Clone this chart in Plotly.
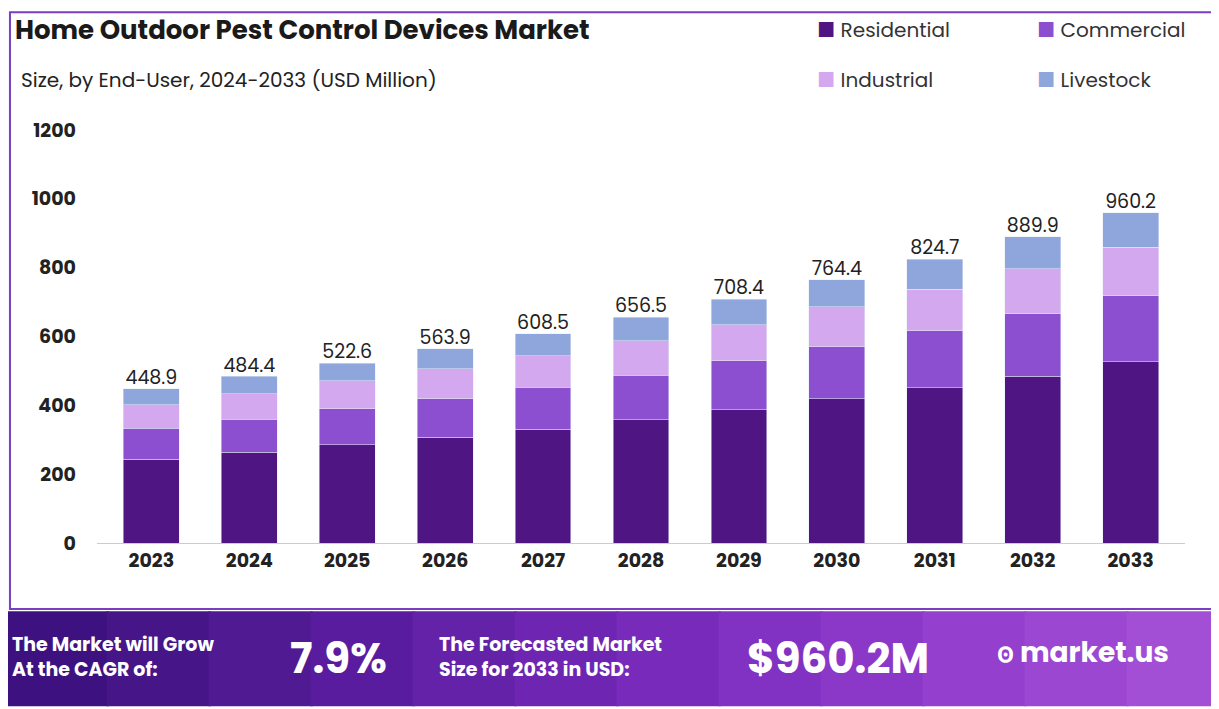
import plotly.graph_objects as go

years = ["2023", "2024", "2025", "2026", "2027", "2028", "2029", "2030", "2031", "2032", "2033"]
totals = [448.9, 484.4, 522.6, 563.9, 608.5, 656.5, 708.4, 764.4, 824.7, 889.9, 960.2]
residential = [244, 264, 285, 308, 331, 358, 387, 419, 451, 485, 526]
commercial = [90, 96, 105, 111, 122, 130, 142, 151, 165, 181, 192]
industrial = [67, 73, 81, 87, 91, 99, 105, 116, 122, 131, 142]
livestock = [round(t - r - c - i, 1) for t, r, c, i in zip(totals, residential, commercial, industrial)]

series = [
    ("Residential", residential, "#4f1683"),
    ("Commercial", commercial, "#8c4fd0"),
    ("Industrial", industrial, "#d4a8ee"),
    ("Livestock", livestock, "#8ea6dc"),
]

fig = go.Figure()
for name, vals, col in series:
    fig.add_trace(go.Bar(x=years, y=vals, name=name, marker_color=col, width=0.57, showlegend=False))

# total labels above bars
fig.add_trace(go.Scatter(x=years, y=totals, mode="text", text=[f"{t:.1f}" for t in totals],
                         textposition="top center", textfont=dict(size=19, color="#222"),
                         showlegend=False, hoverinfo="skip"))

shapes = [dict(type="rect", xref="paper", yref="paper", x0=-0.08, x1=1.03, y0=-0.16, y1=1.285,
               line=dict(color="#7a3fc0", width=2), fillcolor="rgba(0,0,0,0)", layer="below")]
# banner gradient
cols = ["#3d1280", "#461588", "#501a93", "#5a1c9e", "#6422a8", "#6e26b2", "#782bbb",
        "#8232c3", "#8b38c9", "#943fce", "#9c47d2", "#a24ed5"]
n = len(cols)
x0, x1 = -0.085, 1.04
for k, c in enumerate(cols):
    shapes.append(dict(type="rect", xref="paper", yref="paper", x0=x0 + k * (x1 - x0) / n,
                       x1=x0 + (k + 1) * (x1 - x0) / n + 0.002, y0=-0.395, y1=-0.165,
                       fillcolor=c, line=dict(width=0), layer="below"))

ann = [
    dict(x=-0.077, y=1.242, text="<b>Home Outdoor Pest Control Devices Market</b>",
         font=dict(size=26, color="#1a1a1a")),
    dict(x=-0.072, y=1.121, text="Size, by End-User, 2024-2033 (USD Million)",
         font=dict(size=20, color="#222")),
    dict(x=-0.08, y=-0.276, text="<b>The Market will Grow<br>At the CAGR of:</b>",
         font=dict(size=19, color="white"), align="left"),
    dict(x=0.176, y=-0.28, text="<b>7.9%</b>", font=dict(size=42, color="white")),
    dict(x=0.3125, y=-0.276, text="<b>The Forecasted Market<br>Size for 2033 in USD:</b>",
         font=dict(size=19, color="white"), align="left"),
    dict(x=0.596, y=-0.28, text="<b>$960.2M</b>", font=dict(size=42, color="white")),
    dict(x=0.825, y=-0.265, text="<b>ꙩ market.us</b>", font=dict(size=28, color="white")),
]
leg_pos = [(0.66, 1.242), (0.862, 1.242), (0.66, 1.121), (0.862, 1.121)]
for (name, _, col), (lx, ly) in zip(series, leg_pos):
    ann.append(dict(x=lx, y=ly, text=f"<span style='color:{col}'>■</span> {name}",
                    font=dict(size=20, color="#333")))
for a in ann:
    a.update(xref="paper", yref="paper", xanchor="left", yanchor="middle", showarrow=False)

fig.update_layout(
    barmode="stack",
    width=1219, height=709,
    plot_bgcolor="white", paper_bgcolor="white",
    font=dict(family="Poppins, Inter, sans-serif"),
    margin=dict(l=89, r=42, t=122, b=174),
    xaxis=dict(tickfont=dict(size=19, color="#222"), tickprefix="<b>", ticksuffix="</b>",
               showline=True, linecolor="#ccc", ticks=""),
    yaxis=dict(range=[0, 1200], dtick=200, showgrid=False, tickfont=dict(size=19, color="#222"),
               tickprefix="<b>", ticksuffix="</b>", zeroline=False, ticklabelstandoff=20),
    shapes=shapes, annotations=ann,
)
fig.write_html("out.html")
